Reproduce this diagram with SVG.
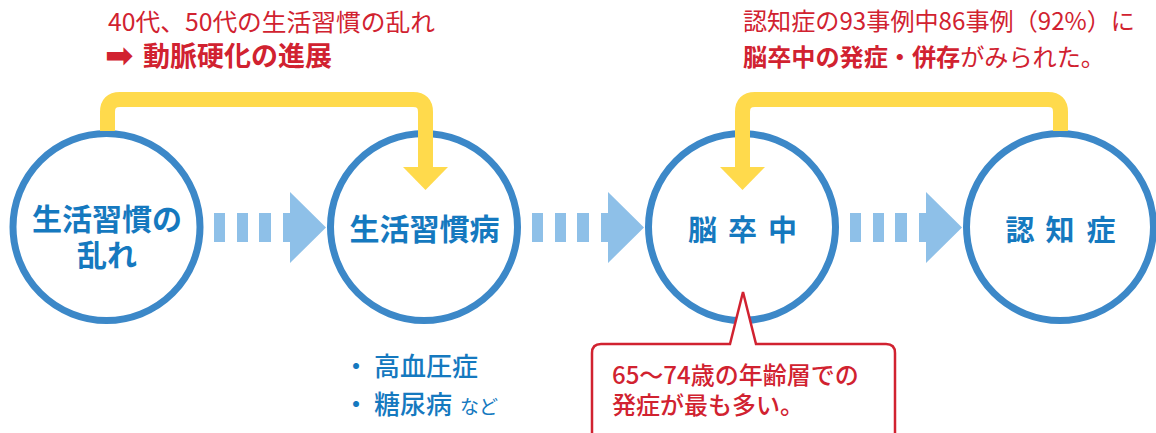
<svg xmlns="http://www.w3.org/2000/svg" width="1156" height="433" viewBox="0 0 1156 433">
<style>
.t{font-family:"Noto Sans CJK JP","Noto Sans",sans-serif}
.red{fill:#D12230}
.blue{fill:#1579BF}
.b{font-weight:700}
.m{font-weight:500}
.ring{fill:#fff;stroke:#3C88C8;stroke-width:7}
.yl{fill:none;stroke:#FFDA4C;stroke-width:15}
.yh{fill:#FFDA4C}
.lb{fill:#8EC0E8}
</style>
<defs>
<g id="dash">
<rect x="0" y="213" width="11" height="29"/>
<rect x="23" y="213" width="11" height="29"/>
<rect x="45" y="213" width="12" height="29"/>
<polygon points="69,213 76,213 76,192 112,227.5 76,263 76,242 69,242"/>
</g>
</defs>
<rect width="1156" height="433" fill="#fff"/>
<g id="connectors">
<use href="#dash" x="214" class="lb"/>
<use href="#dash" x="532" class="lb"/>
<use href="#dash" x="850" class="lb"/>
</g>
<g id="n1"><ellipse class="ring" cx="106.5" cy="227" rx="93.5" ry="93.5"/>
<text class="t b blue" font-size="30" text-anchor="middle"><tspan x="107" y="230">生活習慣の</tspan><tspan x="107" y="266">乱れ</tspan></text></g>
<g id="n2"><ellipse class="ring" cx="424" cy="227" rx="93.5" ry="93.5"/>
<text class="t b blue" font-size="30" text-anchor="middle" x="424.5" y="240">生活習慣病</text></g>
<g id="n3"><ellipse class="ring" cx="742" cy="227" rx="93.5" ry="93.5"/>
<text class="t b blue" font-size="29" text-anchor="middle" y="241"><tspan x="702.5">脳</tspan><tspan x="742.5">卒</tspan><tspan x="782.5">中</tspan></text></g>
<g id="n4"><ellipse class="ring" cx="1060" cy="227" rx="93.5" ry="93.5"/>
<text class="t b blue" font-size="29" text-anchor="middle" y="241"><tspan x="1020">認</tspan><tspan x="1060">知</tspan><tspan x="1101">症</tspan></text></g>
<g id="feedback">
<path class="yl" d="M107.5,131 V112 Q107.5,99.5 120,99.5 H413 Q425.5,99.5 425.5,112 V168"/>
<polygon class="yh" points="403,167 448,167 425.5,190"/>
<path class="yl" d="M1060.5,131 V112 Q1060.5,99.5 1048,99.5 H755 Q742.5,99.5 742.5,112 V168"/>
<polygon class="yh" points="720,167 765,167 742.5,190"/>
</g>
<g id="note-left">
<text class="t red" font-size="24" x="108" y="31" textLength="327" lengthAdjust="spacingAndGlyphs">40代、50代の生活習慣の乱れ</text>
<text class="red" font-family="DejaVu Sans,sans-serif" font-weight="700" font-size="34" x="105" y="67">➡</text>
<text class="t b red" font-size="27" x="143" y="66">動脈硬化の進展</text>
</g>
<g id="note-right">
<text class="t red" font-size="24" x="743" y="30" textLength="392" lengthAdjust="spacingAndGlyphs">認知症の93事例中86事例（92%）に</text>
<text class="t red" font-size="24" x="743" y="66" textLength="362" lengthAdjust="spacingAndGlyphs"><tspan class="b">脳卒中の発症・併存</tspan>がみられた。</text>
</g>
<g id="list">
<text class="t blue m" font-size="26" x="356" y="376" text-anchor="middle">・</text>
<text class="t blue m" font-size="26" x="374" y="376">高血圧症</text>
<text class="t blue m" font-size="26" x="356" y="414" text-anchor="middle">・</text>
<text class="t blue m" font-size="26" x="374" y="414">糖尿病<tspan font-size="19" font-weight="400" dx="8">など</tspan></text>
</g>
<g id="callout">
<path d="M592,445 V353 Q592,344 601,344 H730 L743,292 L756,344 H886 Q895,344 895,353 V445" fill="#fff" stroke="#D12230" stroke-width="2.5" stroke-linejoin="miter"/>
<text class="t red m" font-size="24" x="612" y="384">65〜74歳の年齢層での</text>
<text class="t red m" font-size="24" x="612" y="414">発症が最も多い。</text>
</g>
</svg>
